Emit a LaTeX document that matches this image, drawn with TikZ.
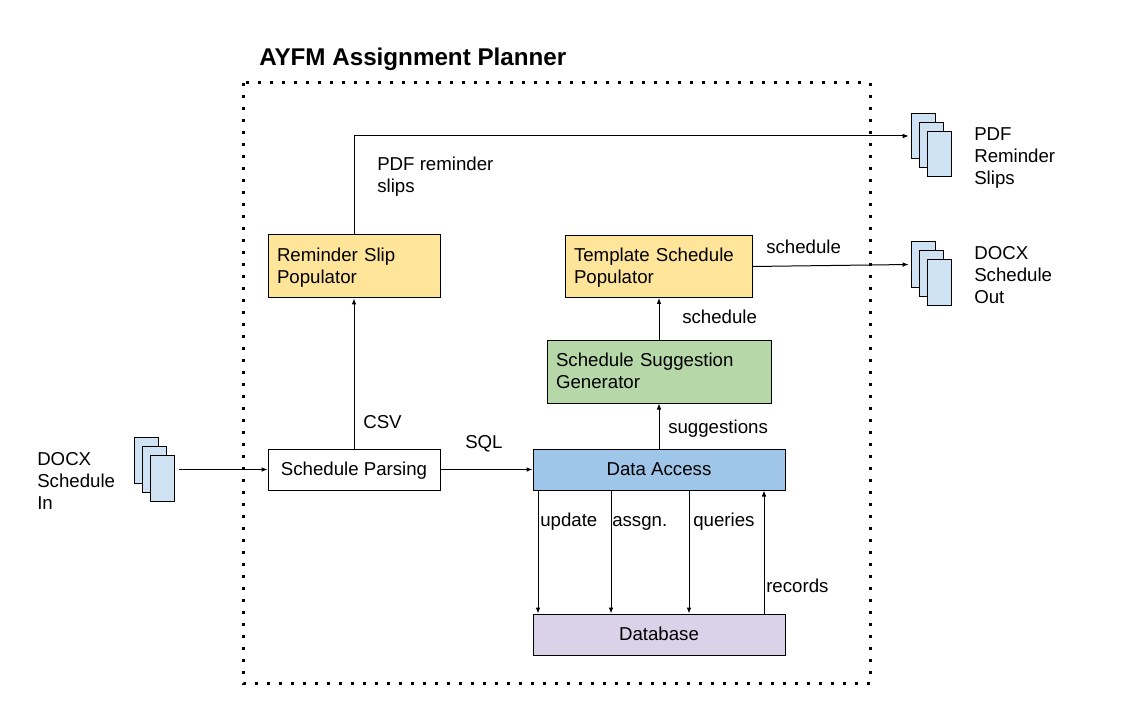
\documentclass[tikz,border=0pt]{standalone}
\usepackage{fontspec}
\setmainfont{Liberation Sans}
\usetikzlibrary{arrows.meta,calc}

\tikzset{
  flowbox/.style n args={3}{draw=black, line width=0.75pt, fill=#1, minimum width=#2*0.75pt, minimum height=#3*0.75pt, inner xsep=6.75pt, inner ysep=0pt, font=\fontsize{14pt}{16.5pt}\selectfont},
  twolines/.style={text width=#1*0.75pt-13.5pt, align=left, text depth=17pt},
  oneline/.style={text height=12.5pt, text depth=3pt},
  sheet/.style={draw=black, line width=0.75pt, fill=sheetblue, minimum width=18.5pt, minimum height=34pt, inner sep=0pt},
  lbl/.style={anchor=west, inner sep=0pt, align=left, font=\fontsize{14pt}{16.5pt}\selectfont},
  conn/.style={-{Latex[length=4.5pt,width=3.5pt]}, line width=0.75pt}
}
\definecolor{slipyellow}{HTML}{FFE599}
\definecolor{gengreen}{HTML}{B6D7A8}
\definecolor{accessblue}{HTML}{9FC5E8}
\definecolor{dbpurple}{HTML}{D9D2E9}
\definecolor{sheetblue}{HTML}{CFE2F3}

\begin{document}
\begin{tikzpicture}[x=0.75pt, y=-0.75pt]
  \useasboundingbox (0,0) rectangle (1130,716);

  % outer frame
  \draw[line width=2.25pt, dash pattern=on 2.25pt off 6.75pt] (243,83) rectangle (870,683);
  \node[lbl, font=\bfseries\fontsize{18.15pt}{21pt}\selectfont] (title) at (259,59) {AYFM Assignment Planner};

  % boxes
  \node[flowbox={white}{172}{41}, oneline] (parsing) at (354,469.5) {Schedule Parsing};
  \node[flowbox={slipyellow}{172}{63}, twolines=172] (reminder) at (354,266.5) {Reminder Slip\\Populator};
  \node[flowbox={slipyellow}{187}{62}, twolines=187] (template) at (658.5,266.5) {Template Schedule\\Populator};
  \node[flowbox={gengreen}{224}{63}, twolines=224] (suggest) at (659,371.5) {Schedule Suggestion\\Generator};
  \node[flowbox={accessblue}{252}{41}, oneline] (access) at (659,469.5) {Data Access};
  \node[flowbox={dbpurple}{252}{41}, oneline] (database) at (659,634.5) {Database};

  % document stacks
  \foreach \name/\x/\y in {pdfout/923.5/136, docxout/923.5/264.5, docxin/146.5/460.5}{
    \node[sheet] (\name1) at (\x,\y) {};
    \node[sheet] (\name2) at (\x+8,\y+9) {};
    \node[sheet] (\name3) at (\x+16,\y+18) {};
  }
  \node[lbl] (pdfname) at (974,158) {PDF\\Reminder\\Slips};
  \node[lbl] (docxoutname) at (974,275) {DOCX\\Schedule\\Out};
  \node[lbl] (docxinname) at (37,481) {DOCX\\Schedule\\In};

  % connectors
  \draw[conn] ([xshift=3pt]docxin3.east |- parsing.west) -- (parsing.west);
  \draw[conn] (parsing.north) -- (reminder.south);
  \draw[conn] (parsing.east) -- (access.west);
  \draw[conn] (reminder.north) |- ([xshift=-1.5pt]pdfout1.west);
  \draw[conn] (template.east) -- ([xshift=-1.5pt]docxout1.west);
  \draw[conn] (suggest.north) -- (suggest.north |- template.south);
  \draw[conn] (access.north) -- (suggest.south);
  \foreach \dx/\pt in {-121/upd, -48/asg, 30/qry}{
    \coordinate (\pt) at ($(access.south)+(\dx,0)$);
    \draw[conn] (\pt) -- (\pt |- database.north);
  }
  \coordinate (rec) at ($(database.north)+(105,0)$);
  \draw[conn] (rec) -- (rec |- access.south);

  % labels
  \node[lbl] (pdflbl) at (377,176.5) {PDF reminder\\slips};
  \node[lbl] (csvlbl) at (363,422) {CSV};
  \node[lbl] (sqllbl) at (465,444) {SQL};
  \node[lbl, oneline] (schedlbla) at (766,247) {schedule};
  \node[lbl, oneline] (schedlblb) at (682,317) {schedule};
  \node[lbl, oneline] (sugglbl) at (668,427) {suggestions};
  \node[lbl, oneline] (updlbl) at (540,520) {update};
  \node[lbl, oneline] (asglbl) at (612,520) {assgn.};
  \node[lbl, oneline] (qrylbl) at (693,520) {queries};
  \node[lbl, oneline] (reclbl) at (766,586) {records};
\end{tikzpicture}
\end{document}
